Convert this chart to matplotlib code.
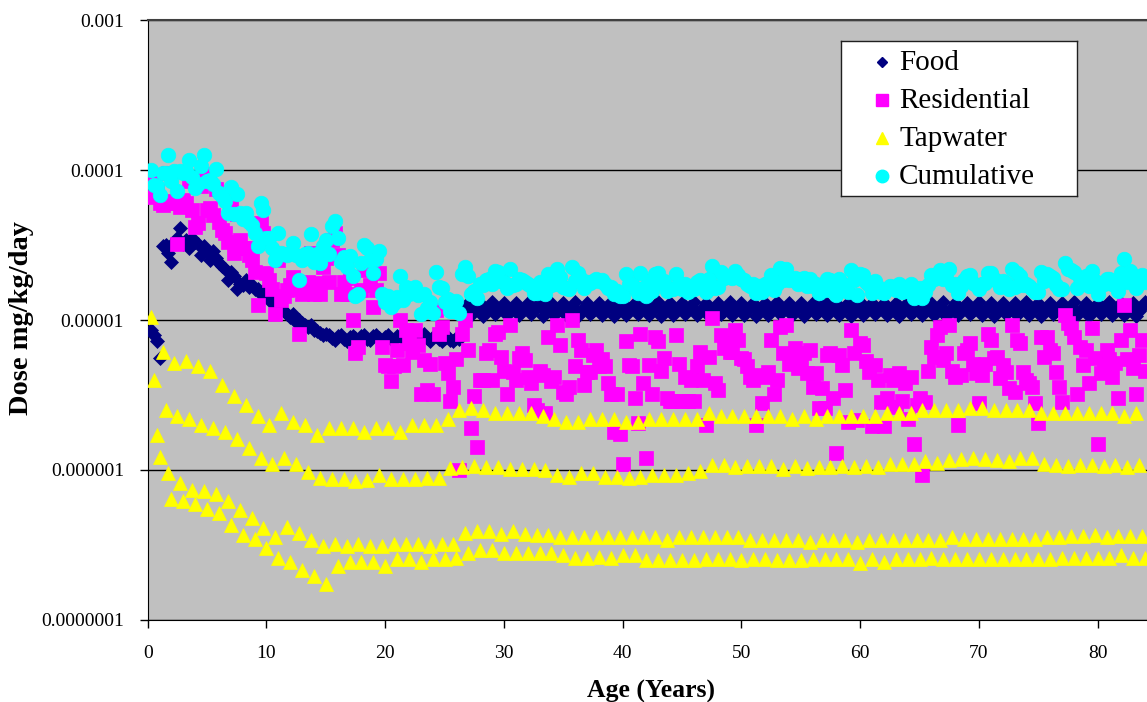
import numpy as np
import matplotlib.pyplot as plt

plt.rcParams['font.family'] = ['Liberation Serif', 'DejaVu Serif']

# Dose by pathway, mg/kg/day in units of 1e-6.
# One value per quarter year starting at age 0.25, four values per row-year.
food = [
    8.6, 7.9, 7.2, 5.6,      31, 31.5, 28, 24.5,
    33, 35, 41, 32,          34, 30, 35, 33,
    32, 27, 31, 29,          25, 29, 26, 24,
    23, 22, 18.5, 21,        19.5, 16, 17.5, 17,
    18.5, 16.5, 17, 16,      16, 15, 15.5, 14.5,
    14.3, 13, 13.6, 12.5,    12, 11.5, 11, 10.5,
    11, 9.7, 10, 9.5,        9.2, 9.0, 9.3, 8.6,
    8.4, 8.2, 8.0, 8.1,      8.0, 7.6, 7.4, 7.8,
    7.9, 7.5, 7.3, 7.7,      7.8, 7.6, 7.3, 7.8,
    7.9, 7.5, 7.4, 7.8,      8.0, 7.6, 7.3, 7.7,
    7.9, 7.5, 7.4, 7.8,      7.8, 7.6, 7.3, 7.7,
    7.9, 7.5, 7.4, 7.8,      8.1, 7.6, 7.3, 7.7,
    7.8, 7.5, 7.2, 7.6,      7.7, 7.4, 7.2, 7.6,
    7.5, 11.2, 12.0, 12.9,   10.8, 11.5, 12.2, 13.0,
    10.7, 11.4, 12.2, 13.1,  10.9, 11.6, 12.3, 12.9,
    10.8, 11.4, 12.1, 13.0,  10.8, 11.5, 12.2, 13.0,
    10.9, 11.6, 12.3, 13.1,  10.7, 11.4, 12.1, 12.9,
    10.8, 11.5, 12.2, 13.0,  10.8, 11.6, 12.3, 13.1,
    10.7, 11.4, 12.1, 13.0,  10.9, 11.5, 12.2, 12.9,
    10.8, 11.5, 12.3, 13.1,  10.7, 11.4, 12.2, 13.0,
    10.8, 11.6, 12.2, 12.9,  10.9, 11.5, 12.1, 13.0,
    10.8, 11.4, 12.2, 13.1,  10.7, 11.5, 12.3, 13.0,
    10.8, 11.5, 12.2, 12.9,  10.9, 11.6, 12.2, 13.1,
    10.8, 11.4, 12.1, 13.0,  10.7, 11.5, 12.2, 13.0,
    10.9, 11.5, 12.3, 13.1,  10.8, 11.6, 12.2, 12.9,
    10.8, 11.4, 12.2, 13.0,  10.7, 11.5, 12.1, 13.0,
    10.8, 11.5, 12.2, 13.1,  10.9, 11.6, 12.3, 13.0,
    10.8, 11.4, 12.2, 12.9,  10.7, 11.5, 12.2, 13.0,
    10.9, 11.5, 12.1, 13.1,  10.8, 11.6, 12.3, 13.0,
    10.8, 11.5, 12.2, 12.9,  10.7, 11.4, 12.2, 13.1,
    10.8, 11.5, 12.3, 13.0,  10.9, 11.6, 12.2, 13.0,
    10.8, 11.4, 12.1, 12.9,  10.7, 11.5, 12.2, 13.1,
    10.9, 11.5, 12.2, 13.0,  10.8, 11.6, 12.3, 13.0,
    10.8, 11.5, 12.2, 13.1,  10.7, 11.4, 12.1, 12.9,
    10.8, 11.6, 12.2, 13.0,  10.9, 11.5, 12.3, 13.1,
    10.8, 11.4, 12.2, 13.0,  10.7, 11.5, 12.2, 12.9,
    10.9, 11.6, 12.1, 13.0,  10.8, 11.5, 12.3, 13.1,
    10.8, 11.4, 12.2, 13.0,  10.7, 11.6, 12.2, 13.0,
    10.9, 11.5, 12.2, 12.9,  10.8, 11.4, 12.3, 13.1,
    10.8, 11.5, 12.1, 13.0,  10.7, 11.5, 12.2, 13.0,
    10.9, 11.6, 12.3, 13.1,  10.8, 11.4, 12.2, 12.9,
    10.8, 11.5, 12.2, 13.0,  10.7, 11.5, 12.3, 13.1,
]

residential = [
    85, 66, 72, 60,          58, 62, 96, 60,
    60, 32, 57, 63,          60, 85, 54, 42,
    44, 78, 94, 54,          56, 50, 75, 45,
    40, 38, 33, 56,          28, 51, 34, 30,
    30, 27, 25, 21,          12.6, 44, 38, 20.5,
    18.5, 16, 11, 25,        13.6, 14.5, 15.8, 17,
    19.4, 16, 8.1, 15,       16.7, 18, 28, 15,
    17.6, 15, 22.7, 26,      18, 34, 38, 27,
    15, 18, 15, 19,          10, 6.0, 6.6, 15.8,
    22, 21.5, 17, 12.3,      15.8, 20.5, 6.6, 5.0,
    4.9, 3.9, 4.9, 6.3,      10, 5.0, 8.6, 7.0,
    6.1, 8.6, 6.8, 3.2,      5.4, 3.4, 5.1, 3.2,
    11.7, 8.1, 9.0, 5.2,     4.4, 2.9, 3.6, 5.5,
    1.0, 8.1, 10, 6.3,       1.9, 3.1, 1.43, 4.0,
    4.0, 6.0, 6.3, 4.0,      8.1, 8.3, 5.7, 4.6,
    3.2, 9.3, 4.5, 4.0,      5.6, 6.0, 5.4, 4.2,
    3.8, 2.7, 2.5, 4.6,      4.3, 2.4, 7.7, 3.9,
    4.2, 9.3, 6.8, 3.3,      3.2, 3.6, 10.0, 4.9,
    7.4, 6.3, 3.7, 4.5,      4.5, 5.8, 6.3, 4.9,
    5.5, 4.9, 3.8, 3.2,      1.8, 3.2, 1.75, 1.1,
    7.2, 5.0, 4.9, 3.0,      2.05, 8.1, 3.8, 1.2,
    5.0, 3.2, 7.7, 7.2,      4.6, 5.6, 3.0, 2.9,
    2.9, 7.9, 5.1, 2.9,      4.2, 2.9, 4.0, 2.9,
    4.9, 6.1, 4.0, 2.0,      5.7, 10.3, 3.8, 3.4,
    7.9, 6.5, 7.0, 6.1,      6.1, 8.6, 7.4, 5.6,
    5.5, 4.9, 4.2, 4.0,      2.0, 4.3, 2.8, 4.2,
    4.5, 7.4, 3.2, 4.0,      9.0, 6.0, 9.3, 5.1,
    5.7, 6.5, 4.8, 5.4,      6.0, 4.4, 6.3, 3.6,
    4.4, 2.6, 3.5, 2.6,      5.8, 6.0, 3.0, 1.3,
    5.8, 5.0, 3.4, 2.1,      8.6, 6.0, 2.15, 7.0,
    6.8, 5.3, 4.5, 1.95,     5.0, 4.0, 2.85, 1.95,
    3.0, 4.3, 4.0, 2.65,     4.4, 2.9, 3.8, 2.2,
    4.2, 1.5, 2.7, 3.0,      0.93, 2.85, 4.6, 6.6,
    5.7, 7.9, 9.0, 5.4,      6.0, 9.3, 4.6, 4.2,
    2.0, 4.3, 6.0, 6.3,      7.0, 5.1, 4.4, 2.8,
    4.3, 5.1, 8.1, 7.4,      5.6, 5.7, 4.1, 5.0,
    4.5, 3.5, 9.3, 3.3,      7.4, 7.0, 4.5, 4.0,
    3.8, 3.6, 2.8, 2.05,     7.7, 5.7, 7.7, 6.3,
    6.0, 4.5, 3.6, 2.85,     10.8, 9.5, 8.8, 7.7,
    3.2, 6.6, 5.0, 6.3,      3.8, 8.8, 5.6, 1.5,
    4.4, 5.0, 6.3, 5.5,      4.2, 5.2, 3.0, 7.4,
    12.6, 5.5, 8.6, 4.8,     3.2, 5.8, 7.4, 4.6,
]

tapwater = [
    10.5, 4.0, 1.7, 1.22,    6.1, 2.5, 0.95, 0.64,
    5.2, 2.3, 0.82, 0.62,    5.3, 2.2, 0.74, 0.59,
    4.9, 2.0, 0.73, 0.55,    4.6, 1.9, 0.69, 0.52,
    3.7, 1.8, 0.62, 0.43,    3.1, 1.6, 0.54, 0.37,
    2.7, 1.4, 0.48, 0.345,   2.3, 1.2, 0.41, 0.30,
    2.0, 1.1, 0.36, 0.26,    2.4, 1.2, 0.42, 0.245,
    2.1, 1.1, 0.38, 0.215,   2.0, 0.97, 0.34, 0.195,
    1.7, 0.88, 0.31, 0.175,  1.9, 0.87, 0.32, 0.23,
    1.9, 0.87, 0.31, 0.245,  1.9, 0.85, 0.32, 0.245,
    1.8, 0.86, 0.31, 0.245,  1.9, 0.92, 0.31, 0.23,
    1.9, 0.87, 0.32, 0.255,  1.8, 0.87, 0.32, 0.255,
    2.0, 0.87, 0.32, 0.245,  2.0, 0.88, 0.31, 0.255,
    2.0, 0.89, 0.32, 0.255,  2.2, 1.03, 0.32, 0.26,
    2.5, 1.05, 0.38, 0.28,   2.6, 1.07, 0.39, 0.295,
    2.5, 1.05, 0.39, 0.295,  2.4, 1.04, 0.375, 0.28,
    2.4, 1.01, 0.39, 0.28,   2.4, 1.01, 0.375, 0.28,
    2.4, 1.01, 0.37, 0.28,   2.3, 1.0, 0.37, 0.28,
    2.2, 0.93, 0.36, 0.27,   2.1, 0.90, 0.355, 0.26,
    2.1, 0.95, 0.355, 0.26,  2.2, 0.95, 0.36, 0.265,
    2.2, 0.90, 0.355, 0.26,  2.2, 0.90, 0.36, 0.27,
    2.1, 0.89, 0.355, 0.27,  2.1, 0.90, 0.355, 0.25,
    2.2, 0.93, 0.355, 0.25,  2.2, 0.93, 0.34, 0.25,
    2.2, 0.93, 0.355, 0.25,  2.2, 0.95, 0.355, 0.25,
    2.2, 0.98, 0.355, 0.255, 2.4, 1.08, 0.355, 0.255,
    2.3, 1.08, 0.355, 0.255, 2.3, 1.04, 0.355, 0.25,
    2.3, 1.06, 0.34, 0.255,  2.3, 1.06, 0.34, 0.255,
    2.3, 1.06, 0.34, 0.25,   2.3, 1.01, 0.34, 0.25,
    2.2, 1.06, 0.34, 0.25,   2.3, 1.03, 0.33, 0.255,
    2.2, 1.05, 0.34, 0.255,  2.3, 1.04, 0.34, 0.255,
    2.3, 1.06, 0.34, 0.255,  2.3, 1.05, 0.33, 0.24,
    2.3, 1.06, 0.34, 0.255,  2.3, 1.04, 0.34, 0.245,
    2.4, 1.10, 0.34, 0.255,  2.4, 1.10, 0.34, 0.255,
    2.4, 1.10, 0.34, 0.255,  2.5, 1.14, 0.34, 0.26,
    2.5, 1.12, 0.34, 0.255,  2.5, 1.17, 0.355, 0.255,
    2.5, 1.18, 0.345, 0.255, 2.6, 1.20, 0.345, 0.255,
    2.6, 1.19, 0.345, 0.255, 2.5, 1.17, 0.345, 0.255,
    2.5, 1.15, 0.345, 0.255, 2.5, 1.20, 0.345, 0.255,
    2.5, 1.20, 0.345, 0.255, 2.4, 1.10, 0.355, 0.255,
    2.4, 1.08, 0.355, 0.26,  2.4, 1.07, 0.365, 0.26,
    2.4, 1.08, 0.365, 0.26,  2.4, 1.08, 0.37, 0.26,
    2.4, 1.07, 0.36, 0.26,   2.4, 1.08, 0.365, 0.27,
    2.3, 1.05, 0.365, 0.26,  2.4, 1.08, 0.365, 0.26,
]

cumulative = [
    100, 80, 78, 68,         95, 96, 125, 85,
    98, 72, 99, 96,          99, 117, 90, 76,
    81, 107, 126, 84,        86, 81, 102, 70,
    67, 62, 52, 77,          51, 69, 52, 47,
    52, 45, 43, 38,          31, 60, 54, 35,
    35, 30, 25, 38,          28, 27.5, 27, 28,
    32.5, 27, 18.5, 25,      27.5, 28, 37.5, 24.5,
    27.5, 24, 31, 34.3,      27.7, 42.6, 46, 35,
    24.5, 26.5, 22.6, 26.9,  19.7, 14.5, 15, 24,
    31.6, 30, 25, 20.5,      25.7, 29, 14.8, 13.2,
    14.5, 12.3, 12.9, 14.3,  19.5, 13.6, 16.5, 15,
    15.7, 16.7, 14.7, 11,    15, 12, 13.2, 11.2,
    21, 16.6, 16.4, 13.1,    13.8, 11.4, 11.4, 13.3,
    11.2, 20.4, 22.4, 19.5,  15.0, 15.6, 14.0, 17.3,
    17.1, 18.5, 18.9, 17.3,  21.2, 20.8, 18.3, 17.9,
    16.3, 21.8, 17.1, 17.3,  18.7, 18.5, 18.0, 17.5,
    16.9, 15.2, 15.1, 17.9,  17.4, 14.9, 20.3, 17.2,
    17.3, 21.8, 19.4, 16.6,  16.3, 16.1, 22.6, 18.2,
    20.5, 18.8, 16.3, 17.8,  17.6, 18.3, 18.9, 18.2,
    18.6, 17.4, 16.4, 16.5,  14.9, 15.7, 14.35, 14.4,
    20.3, 17.5, 17.5, 16.3,  15.2, 20.6, 16.4, 14.5,
    18.1, 15.7, 20.3, 20.5,  17.7, 18.1, 15.6, 16.2,
    16.0, 20.4, 17.7, 16.2,  17.3, 15.4, 16.6, 16.2,
    18.0, 18.6, 16.6, 15.3,  18.8, 22.8, 16.4, 16.7,
    21.0, 19.0, 19.6, 19.4,  19.2, 21.1, 20.0, 18.9,
    18.6, 17.4, 16.8, 17.3,  15.1, 16.8, 15.4, 17.5,
    17.6, 19.9, 15.8, 17.3,  22.1, 18.5, 21.9, 18.4,
    18.8, 19.0, 17.4, 18.7,  19.1, 16.9, 18.9, 16.9,
    17.5, 15.1, 16.1, 15.9,  18.9, 18.5, 15.6, 14.6,
    18.9, 17.5, 16.0, 15.4,  21.7, 18.5, 14.75, 20.3,
    19.9, 17.8, 17.1, 15.25, 18.1, 16.5, 15.45, 15.25,
    16.1, 16.8, 16.6, 15.95, 17.5, 15.4, 16.4, 15.5,
    17.3, 14.0, 15.3, 16.3,  14.0, 15.35, 17.2, 19.9,
    18.8, 20.4, 21.6, 18.7,  19.1, 21.8, 17.2, 17.5,
    15.1, 16.8, 18.6, 19.6,  20.1, 17.6, 17.0, 16.1,
    17.4, 17.6, 20.7, 20.7,  18.7, 18.2, 16.7, 18.3,
    17.6, 16.0, 21.9, 16.6,  20.5, 19.5, 17.1, 17.3,
    16.9, 16.1, 15.4, 15.35, 20.8, 18.2, 20.3, 19.6,
    19.1, 17.0, 16.2, 16.15, 23.9, 22.0, 21.4, 21.0,
    16.3, 19.1, 17.6, 19.6,  16.9, 21.3, 18.2, 14.8,
    17.5, 17.5, 18.9, 18.8,  17.3, 17.7, 15.6, 20.7,
    25.7, 18.0, 21.2, 18.1,  16.3, 18.3, 20.0, 17.9,
]

series_names = ['Food', 'Residential', 'Tapwater', 'Cumulative']
y_ticks = [1e-7, 1e-6, 1e-5, 1e-4, 1e-3]
y_tick_labels = ['0.0000001', '0.000001', '0.00001', '0.0001', '0.001']
x_ticks = [0, 10, 20, 30, 40, 50, 60, 70, 80]

# quarter-year ages
ages = np.arange(1, len(food) + 1) * 0.25

# marker, colour, plot size, legend size
styles = [
    ('D', '#000080', 6.8, 5.4),
    ('s', '#FF00FF', 10.0, 8.6),
    ('^', '#FFFF00', 9.6, 8.6),
    ('o', '#00FFFF', 10.5, 9.0),
]

W, H = 1147, 702
fig = plt.figure(figsize=(W / 100, H / 100), dpi=100)
left = 147.7 / W
ax = fig.add_axes([left, 82 / H, 1 - left, 600 / H])
ax.set_facecolor('#C0C0C0')

for vals, (mk, col, ms, _) in zip([food, residential, tapwater, cumulative], styles):
    ax.plot(ages, np.array(vals) * 1e-6, linestyle='none', marker=mk, ms=ms,
            color=col, mec=col, mew=0.5, zorder=3)

ax.set_yscale('log')
ax.set_ylim(1e-7, 1e-3)
ax.set_xlim(0, (W - 147.7) / 11.874)
ax.set_yticks(y_ticks)
ax.set_yticklabels(y_tick_labels)
ax.yaxis.set_minor_locator(plt.NullLocator())
ax.set_xticks(x_ticks)
ax.tick_params(direction='out', length=6, width=1, color='black', labelsize=14)
ax.tick_params(axis='x', pad=12)
ax.tick_params(axis='y', pad=11)
ax.grid(axis='y', which='major', color='black', linewidth=1)
ax.set_axisbelow(True)

ax.spines['right'].set_visible(False)
ax.spines['top'].set_color('#404040')
ax.spines['top'].set_linewidth(1.5)
ax.spines['left'].set_color('black')
ax.spines['bottom'].set_color('black')

fig.text(22 / W, 1 - 318 / H, 'Dose mg/kg/day', rotation=90, ha='center',
         va='center', fontsize=20.5, fontweight='bold')
fig.text(651 / W, 4 / H, 'Age (Years)', ha='center', va='baseline',
         fontsize=18.5, fontweight='bold')

# legend box drawn by hand
lax = fig.add_axes([841 / W, 1 - 196 / H, 236 / W, 155 / H])
lax.set_xlim(0, 236)
lax.set_ylim(155, 0)
lax.set_xticks([])
lax.set_yticks([])
lax.set_facecolor('white')
for sp in lax.spines.values():
    sp.set_color('#202020')
    sp.set_linewidth(1)
for i, (name, (mk, col, _, lms)) in enumerate(zip(series_names, styles)):
    y = 21 + 38 * i
    lax.plot(41, y, marker=mk, ms=lms, color=col, mec=col, linestyle='none')
    lax.text(58, y + 7.5, name, va='baseline', ha='left', fontsize=21)

fig.savefig('out.png', dpi=100)
